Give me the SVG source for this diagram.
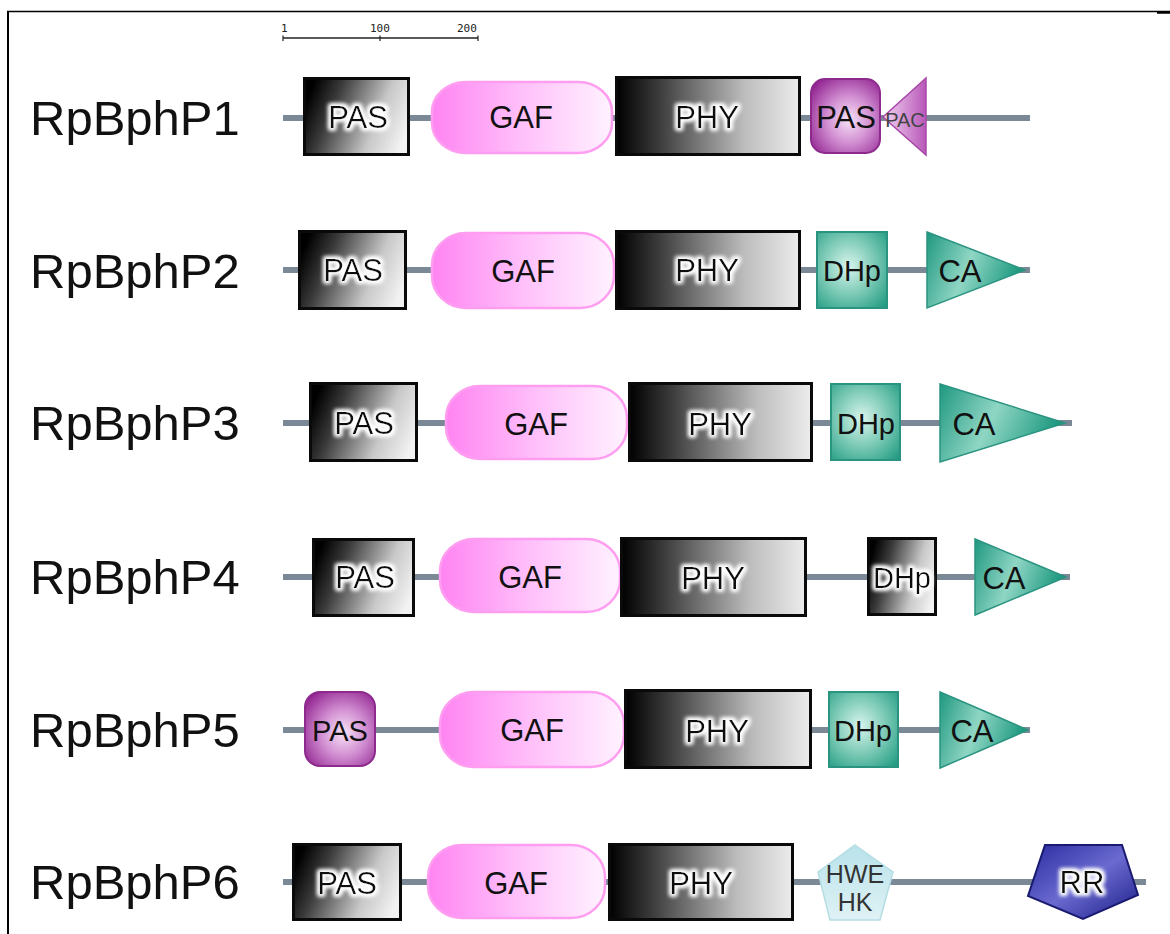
<svg xmlns="http://www.w3.org/2000/svg" width="1170" height="934" viewBox="0 0 1170 934">
  <style>
    .name { font-family: "Liberation Sans", Arial, sans-serif; font-size: 49px; fill: #111; }
    .dom { font-family: "Liberation Sans", Arial, sans-serif; font-size: 31px; fill: #111; text-anchor: middle; }
    .small { font-family: "Liberation Sans", Arial, sans-serif; font-size: 25px; fill: #333; text-anchor: middle; }
    .scale { font-family: "DejaVu Sans Mono", monospace; font-size: 11px; fill: #222; }
    .backbone { stroke: #7b8896; stroke-width: 6; fill: none; }
    .box { fill: url(#gBlack); stroke: #0a0a0a; stroke-width: 3; }
    .phy { fill: url(#gPhy); stroke: #0a0a0a; stroke-width: 3; }
    .gaf { fill: url(#gPink); stroke: #ff9ef0; stroke-width: 2.5; }
    .pas2 { fill: url(#gPurple); stroke: #8e2a8e; stroke-width: 2; }
    .pac { fill: url(#gPac); stroke: #a848a8; stroke-width: 1.5; }
    .dhp { fill: url(#gTeal); stroke: #2a9480; stroke-width: 2; }
    .ca { fill: url(#gTealTri); stroke: #2a9480; stroke-width: 1.5; }
    .hk { fill: url(#gIce); stroke: #b4dde4; stroke-width: 1.5; }
    .rr { fill: url(#gNavy); stroke: #1a1a70; stroke-width: 2; }
  </style>
  <defs>
    <linearGradient id="gBlack" x1="0" y1="0.35" x2="1" y2="0.65">
      <stop offset="0" stop-color="#000"/>
      <stop offset="0.25" stop-color="#3a3a3a"/>
      <stop offset="0.7" stop-color="#c8c8c8"/>
      <stop offset="1" stop-color="#f2f2f2"/>
    </linearGradient>
    <linearGradient id="gPhy" x1="0" y1="0" x2="1" y2="0">
      <stop offset="0" stop-color="#000"/>
      <stop offset="0.2" stop-color="#333"/>
      <stop offset="0.7" stop-color="#bdbdbd"/>
      <stop offset="1" stop-color="#ececec"/>
    </linearGradient>
    <linearGradient id="gPink" x1="0" y1="0" x2="1" y2="0">
      <stop offset="0" stop-color="#ff84f2"/>
      <stop offset="0.5" stop-color="#ffc0fa"/>
      <stop offset="1" stop-color="#fff2ff"/>
    </linearGradient>
    <radialGradient id="gPurple" cx="0.55" cy="0.55" r="0.7">
      <stop offset="0" stop-color="#f6e2f6"/>
      <stop offset="0.45" stop-color="#d290d2"/>
      <stop offset="1" stop-color="#8e1e8e"/>
    </radialGradient>
    <linearGradient id="gPac" x1="0" y1="0" x2="1" y2="0">
      <stop offset="0" stop-color="#f2d4f2"/>
      <stop offset="1" stop-color="#b858b8"/>
    </linearGradient>
    <radialGradient id="gTeal" cx="0.45" cy="0.45" r="0.75">
      <stop offset="0" stop-color="#d8f4ec"/>
      <stop offset="0.5" stop-color="#7ccab6"/>
      <stop offset="1" stop-color="#1f9a80"/>
    </radialGradient>
    <linearGradient id="gTealTri" x1="0" y1="0" x2="1" y2="0.3">
      <stop offset="0" stop-color="#1f9880"/>
      <stop offset="0.5" stop-color="#8fd6c4"/>
      <stop offset="1" stop-color="#1f9a80"/>
    </linearGradient>
    <linearGradient id="gIce" x1="0" y1="0" x2="0" y2="1">
      <stop offset="0" stop-color="#b8e2ea"/>
      <stop offset="1" stop-color="#dff2f5"/>
    </linearGradient>
    <linearGradient id="gNavy" x1="0" y1="0" x2="1" y2="1">
      <stop offset="0" stop-color="#2a2aa0"/>
      <stop offset="0.5" stop-color="#6a6ad0"/>
      <stop offset="1" stop-color="#1c1c88"/>
    </linearGradient>
    <filter id="halo" x="-30%" y="-50%" width="160%" height="200%">
      <feMorphology in="SourceAlpha" operator="dilate" radius="2" result="d"/>
      <feGaussianBlur in="d" stdDeviation="2" result="b"/>
      <feFlood flood-color="#ffffff"/>
      <feComposite in2="b" operator="in" result="w"/>
      <feMerge><feMergeNode in="w"/><feMergeNode in="w"/><feMergeNode in="SourceGraphic"/></feMerge>
    </filter>
  </defs>

  <rect width="1170" height="934" fill="#fff"/>

  <!-- frame -->
  <g id="frame" stroke="#000" fill="none">
    <line x1="7" y1="11.5" x2="1170" y2="11.5" stroke-width="1.6"/>
    <line x1="8" y1="11" x2="8" y2="934" stroke-width="2"/>
    <line x1="1157" y1="12.5" x2="1170" y2="12.5" stroke-width="2.5"/>
  </g>

  <!-- scale bar -->
  <g id="scale">
    <line x1="283" y1="38" x2="478" y2="38" stroke="#222" stroke-width="1.3"/>
    <line x1="283" y1="35.5" x2="283" y2="41" stroke="#222" stroke-width="1.2"/>
    <line x1="380" y1="35.5" x2="380" y2="41" stroke="#222" stroke-width="1.2"/>
    <line x1="478" y1="35.5" x2="478" y2="41" stroke="#222" stroke-width="1.2"/>
    <text class="scale" x="281" y="32">1</text>
    <text class="scale" x="370" y="32">100</text>
    <text class="scale" x="457" y="32">200</text>
  </g>

  <!-- backbones -->
  <g id="backbones" class="backbone">
    <line x1="283" y1="118" x2="1030" y2="118"/>
    <line x1="283" y1="270" x2="1030" y2="270"/>
    <line x1="283" y1="423" x2="1072" y2="423"/>
    <line x1="283" y1="577" x2="1070" y2="577"/>
    <line x1="283" y1="730" x2="1030" y2="730"/>
    <line x1="283" y1="882" x2="1146" y2="882"/>
  </g>

  <!-- RpBphP1 -->
  <g id="RpBphP1">
    <text class="name" x="30" y="135">RpBphP1</text>
    <rect class="box" x="304.5" y="78.5" width="104" height="76"/>
    <text class="dom" x="358" y="128" filter="url(#halo)">PAS</text>
    <rect class="gaf" x="432" y="82" width="180" height="71" rx="34" ry="30"/>
    <text class="dom" x="521" y="128">GAF</text>
    <rect class="phy" x="616.5" y="77.5" width="183" height="77"/>
    <text class="dom" x="707" y="128" filter="url(#halo)">PHY</text>
    <rect class="pas2" x="811" y="79" width="69" height="74" rx="14"/>
    <text class="dom" x="846" y="128">PAS</text>
    <polygon class="pac" points="926,78 883,117 926,155"/>
    <text class="small" x="905" y="127" style="font-size:20px;fill:#444">PAC</text>
  </g>

  <!-- RpBphP2 -->
  <g id="RpBphP2">
    <text class="name" x="30" y="288">RpBphP2</text>
    <rect class="box" x="299.5" y="231.5" width="106" height="77"/>
    <text class="dom" x="353" y="281" filter="url(#halo)">PAS</text>
    <rect class="gaf" x="432" y="233" width="182" height="75" rx="34" ry="32"/>
    <text class="dom" x="523" y="282">GAF</text>
    <rect class="phy" x="616.5" y="231.5" width="183" height="77"/>
    <text class="dom" x="707" y="281" filter="url(#halo)">PHY</text>
    <rect class="dhp" x="817" y="232" width="70" height="76"/>
    <text class="dom" x="852" y="281" style="font-size:29px">DHp</text>
    <polygon class="ca" points="927,232 1025,270 927,308"/>
    <text class="dom" x="960" y="282">CA</text>
  </g>

  <!-- RpBphP3 -->
  <g id="RpBphP3">
    <text class="name" x="30" y="440">RpBphP3</text>
    <rect class="box" x="310.5" y="383.5" width="106" height="77"/>
    <text class="dom" x="364" y="434" filter="url(#halo)">PAS</text>
    <rect class="gaf" x="446" y="386" width="181" height="73" rx="34" ry="32"/>
    <text class="dom" x="536" y="435">GAF</text>
    <rect class="phy" x="629.5" y="383.5" width="182" height="77"/>
    <text class="dom" x="720" y="435" filter="url(#halo)">PHY</text>
    <rect class="dhp" x="831" y="384" width="69" height="76"/>
    <text class="dom" x="866" y="434" style="font-size:29px">DHp</text>
    <polygon class="ca" points="940,384 1065,423 940,462"/>
    <text class="dom" x="974" y="435">CA</text>
  </g>

  <!-- RpBphP4 -->
  <g id="RpBphP4">
    <text class="name" x="30" y="594">RpBphP4</text>
    <rect class="box" x="313.5" y="539.5" width="100" height="76"/>
    <text class="dom" x="365" y="588" filter="url(#halo)">PAS</text>
    <rect class="gaf" x="440" y="539" width="180" height="73" rx="34" ry="32"/>
    <text class="dom" x="530" y="588">GAF</text>
    <rect class="phy" x="621.5" y="538.5" width="184" height="77"/>
    <text class="dom" x="713" y="589" filter="url(#halo)">PHY</text>
    <rect class="box" x="868.5" y="538.5" width="67" height="76"/>
    <text class="dom" x="902" y="588" style="font-size:29px" filter="url(#halo)">DHp</text>
    <polygon class="ca" points="975,539 1066,577 975,615"/>
    <text class="dom" x="1004" y="589">CA</text>
  </g>

  <!-- RpBphP5 -->
  <g id="RpBphP5">
    <text class="name" x="30" y="747">RpBphP5</text>
    <rect class="pas2" x="305" y="692" width="70" height="74" rx="15"/>
    <text class="dom" x="340" y="741" style="font-size:29px">PAS</text>
    <rect class="gaf" x="440" y="692" width="184" height="75" rx="34" ry="32"/>
    <text class="dom" x="532" y="741">GAF</text>
    <rect class="phy" x="625.5" y="690.5" width="185" height="77"/>
    <text class="dom" x="717" y="742" filter="url(#halo)">PHY</text>
    <rect class="dhp" x="829" y="692" width="69" height="75"/>
    <text class="dom" x="863" y="741" style="font-size:29px">DHp</text>
    <polygon class="ca" points="940,692 1028,730 940,768"/>
    <text class="dom" x="972" y="742">CA</text>
  </g>

  <!-- RpBphP6 -->
  <g id="RpBphP6">
    <text class="name" x="30" y="899">RpBphP6</text>
    <rect class="box" x="293.5" y="844.5" width="107" height="75"/>
    <text class="dom" x="347" y="894" filter="url(#halo)">PAS</text>
    <rect class="gaf" x="428" y="845" width="177" height="73" rx="34" ry="32"/>
    <text class="dom" x="516" y="894">GAF</text>
    <rect class="phy" x="609.5" y="844.5" width="183" height="75"/>
    <text class="dom" x="701" y="894" filter="url(#halo)">PHY</text>
    <polygon class="hk" points="855,845 893,872 880,920 830,920 818,872"/>
    <text class="small" x="855" y="883">HWE</text>
    <text class="small" x="855" y="911">HK</text>
    <polygon class="rr" points="1045,845 1122,845 1138,895 1083,919 1028,896"/>
    <text class="dom" x="1082" y="893" filter="url(#halo)">RR</text>
  </g>
</svg>
